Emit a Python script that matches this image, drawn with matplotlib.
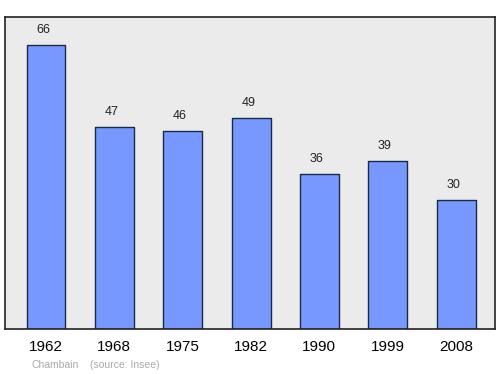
import matplotlib
matplotlib.use("Agg")
import matplotlib.pyplot as plt

years = ["1962", "1968", "1975", "1982", "1990", "1999", "2008"]
population = [66, 47, 46, 49, 36, 39, 30]

fig = plt.figure(figsize=(5, 3.74), dpi=100)
ax = fig.add_axes([5/500, 1-329/374, 490/500, 312/374])
ax.set_facecolor("#ebebeb")
x = list(range(len(years)))
ax.bar(x, population, width=0.57, color="#7799ff", edgecolor="#1a2a44", linewidth=1.0, joinstyle="round")
ax.set_xlim(-0.6, 6.57)
ax.set_ylim(0, 72.5)
for xi, v in zip(x, population):
    ax.annotate(str(v), (xi, v), xytext=(-2, 6.5), textcoords="offset points",
                ha="center", va="bottom", fontsize=9, color="#222222",
                family="Liberation Sans")
ax.set_xticks(x)
ax.set_xticklabels(years, fontsize=11, family="Liberation Sans")
ax.tick_params(axis="x", length=0, pad=8)
ax.set_yticks([])
for s in ax.spines.values():
    s.set_color("#222222")
    s.set_linewidth(1.2)
fig.text(31/500, 1-365/374, "Chambain", fontsize=7.5, color="#aaaaaa", va="center", family="Liberation Sans")
fig.text(90/500, 1-365/374, "(source: Insee)", fontsize=7.5, color="#aaaaaa", va="center", family="Liberation Sans")
fig.savefig("out.png", dpi=100)
